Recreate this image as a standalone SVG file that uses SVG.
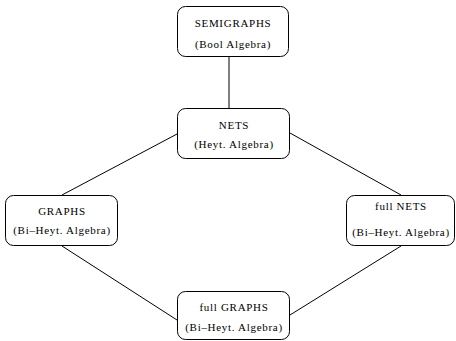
<svg xmlns="http://www.w3.org/2000/svg" width="456" height="341" viewBox="0 0 456 341">
<style>
.box{fill:#fff;stroke:#000;stroke-width:1}
.t{font-family:"Liberation Serif","Times New Roman",serif;font-size:11px;letter-spacing:0.7px;fill:#000;text-anchor:middle}
.e{stroke:#000;stroke-width:1;fill:none}
</style>
<rect width="456" height="341" fill="#fff"/>
<g id="edges">
<line class="e" x1="229" y1="57" x2="229" y2="108"/>
<line class="e" x1="177" y1="134" x2="62" y2="195"/>
<line class="e" x1="290" y1="133" x2="401" y2="195"/>
<line class="e" x1="62" y1="246" x2="177" y2="320"/>
<line class="e" x1="401" y1="246" x2="290" y2="315"/>
</g>
<g id="semigraphs">
<rect class="box" x="177.5" y="6.5" width="111" height="50" rx="8"/>
<text class="t" x="233" y="27">SEMIGRAPHS</text>
<text class="t" x="233" y="48">(Bool Algebra)</text>
</g>
<g id="nets">
<rect class="box" x="177.5" y="108.5" width="112" height="50" rx="8"/>
<text class="t" x="234" y="129">NETS</text>
<text class="t" x="234" y="148">(Heyt. Algebra)</text>
</g>
<g id="graphs">
<rect class="box" x="5.5" y="195.5" width="112" height="50" rx="8"/>
<text class="t" x="62" y="215">GRAPHS</text>
<text class="t" x="62" y="234">(Bi–Heyt. Algebra)</text>
</g>
<g id="fullnets">
<rect class="box" x="346.5" y="195.5" width="108" height="50" rx="8"/>
<text class="t" x="401" y="210">full NETS</text>
<text class="t" x="401" y="236">(Bi–Heyt. Algebra)</text>
</g>
<g id="fullgraphs">
<rect class="box" x="177.5" y="291.5" width="112" height="48" rx="8"/>
<text class="t" x="234" y="311">full GRAPHS</text>
<text class="t" x="234" y="331">(Bi–Heyt. Algebra)</text>
</g>
</svg>
